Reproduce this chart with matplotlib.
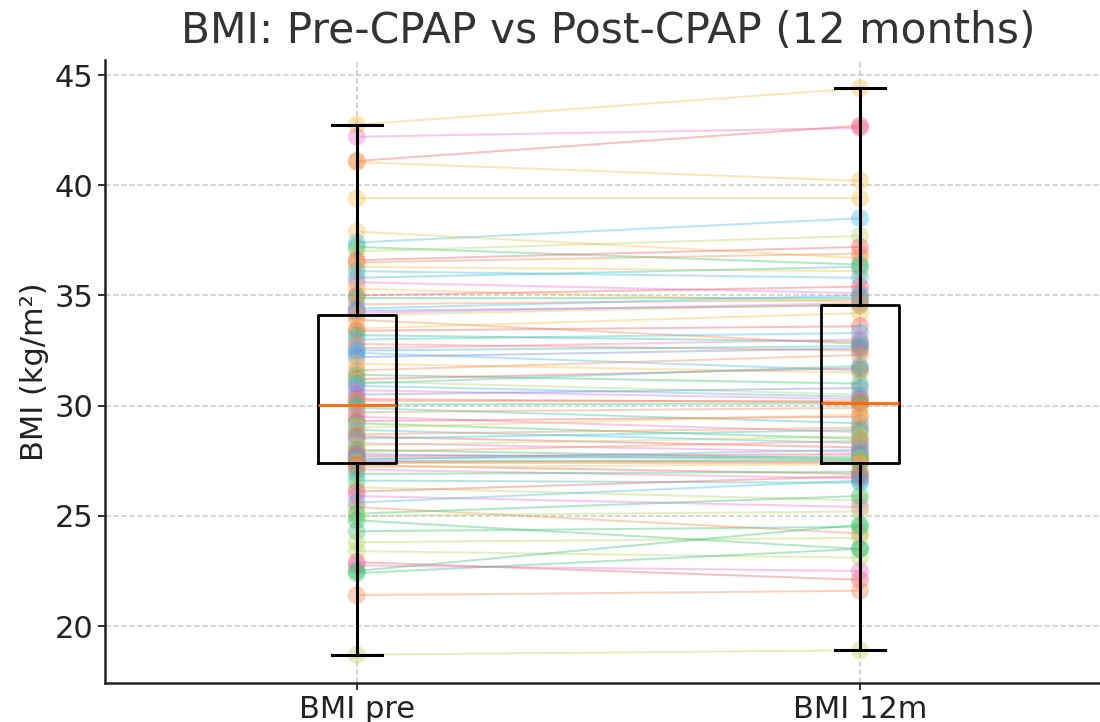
import numpy as np
import matplotlib.pyplot as plt

# BMI per patient, pre-CPAP and after 12 months (same order = same patient)
bmi_pre = [42.75, 42.2, 41.1, 41.05, 39.4, 37.9, 37.4, 37.2, 37.0, 36.6,
           36.5, 36.3, 36.1, 35.8, 35.6, 35.3, 35.0, 34.9, 34.6, 34.4,
           34.3, 34.2, 34.1, 33.9, 33.5, 33.4, 33.2, 33.0, 32.8, 32.6,
           32.5, 32.4, 32.2, 31.9, 31.6, 31.4, 31.2, 31.1, 31.0, 30.9,
           30.7, 30.5, 30.3, 30.2, 30.05, 29.9, 29.7, 29.5, 29.3, 29.2,
           29.0, 28.9, 28.7, 28.6, 28.5, 28.3, 28.2, 28.0, 27.9, 27.8,
           27.7, 27.6, 27.55, 27.5, 27.45, 27.42, 27.4, 27.3, 27.2, 27.1,
           26.9, 26.6, 26.3, 26.1, 25.9, 25.6, 25.4, 25.1, 25.0, 24.8,
           24.3, 23.8, 23.4, 22.9, 22.75, 22.5, 22.4, 21.4, 18.7]
bmi_12m = [44.4, 42.6, 42.7, 40.2, 39.4, 36.7, 38.5, 36.4, 37.7, 37.2,
           36.9, 36.1, 35.8, 36.3, 35.1, 34.7, 35.4, 34.9, 34.8, 35.0,
           34.55, 34.65, 34.6, 32.8, 34.2, 33.6, 32.9, 33.3, 32.5, 33.0,
           32.7, 31.6, 32.6, 31.5, 32.3, 31.0, 31.7, 30.5, 31.8, 30.4,
           30.3, 30.8, 30.15, 30.2, 30.1, 29.2, 29.9, 28.8, 29.5, 28.5,
           29.6, 28.3, 29.0, 28.1, 28.9, 27.9, 28.6, 27.6, 28.4, 27.55,
           27.8, 27.7, 28.0, 27.45, 27.5, 27.6, 27.4, 26.9, 27.35, 26.7,
           27.0, 26.5, 25.7, 26.8, 25.4, 26.6, 24.2, 25.9, 25.2, 23.5,
           24.5, 24.0, 23.1, 22.1, 22.5, 24.6, 23.5, 21.6, 18.9]
labels = ["BMI pre", "BMI 12m"]

palette = {"Y": "#F7BE3C", "P": "#F06CCF", "R": "#F2555E", "C": "#3CB9EE",
           "G": "#2EC46C", "L": "#B3D659", "O": "#F7854C", "T": "#2FC2B0",
           "B": "#6F7FD6"}
codes = ("YPRYYYCGLR" "OYCTPYRGOC" "BPLOYRGCOP" "TCBYOGRLTC"
         "PBROGTOPRG" "YCORTPLGOB" "RTCPGLORYP" "GTLRPCOGLG"
         "GLLRPGGOL")
colors = [palette[c] for c in codes]

fig = plt.figure(figsize=(11, 7.22), dpi=100)
ax = fig.add_axes([0.0955, 0.054, 0.915, 0.863])

for pre, post, col in zip(bmi_pre, bmi_12m, colors):
    ax.plot([1, 2], [pre, post], color=col, alpha=0.38, lw=1.4, zorder=2)
ax.scatter(np.ones(len(bmi_pre)), bmi_pre, s=165, c=colors, alpha=0.38,
           edgecolors="none", zorder=3)
ax.scatter(np.full(len(bmi_12m), 2), bmi_12m, s=165, c=colors, alpha=0.38,
           edgecolors="none", zorder=3)

ax.boxplot([bmi_pre, bmi_12m], positions=[1, 2], widths=0.155, whis=(0, 100),
           capwidths=0.1, showfliers=False, zorder=4,
           boxprops=dict(color="black", lw=2),
           whiskerprops=dict(color="black", lw=2.2),
           capprops=dict(color="black", lw=2.2),
           medianprops=dict(color="#F26A1B", lw=2))

ax.set_xlim(0.5, 2.5)
ax.set_xticks([1, 2], labels)
ax.grid(True, linestyle="--", color="#cccccc", lw=1.1)
ax.set_axisbelow(True)
for s in ["top", "right"]:
    ax.spines[s].set_visible(False)
for s in ["left", "bottom"]:
    ax.spines[s].set_linewidth(1.8)
    ax.spines[s].set_color("#222222")
ax.tick_params(labelsize=22, colors="#222222", width=1.3, length=5)
ax.set_ylabel("BMI (kg/m²)", fontsize=22, color="#222222")
ax.set_title("BMI: Pre-CPAP vs Post-CPAP (12 months)", fontsize=30.5,
             color="#333333", pad=12)

fig.savefig("out.png", dpi=100)
